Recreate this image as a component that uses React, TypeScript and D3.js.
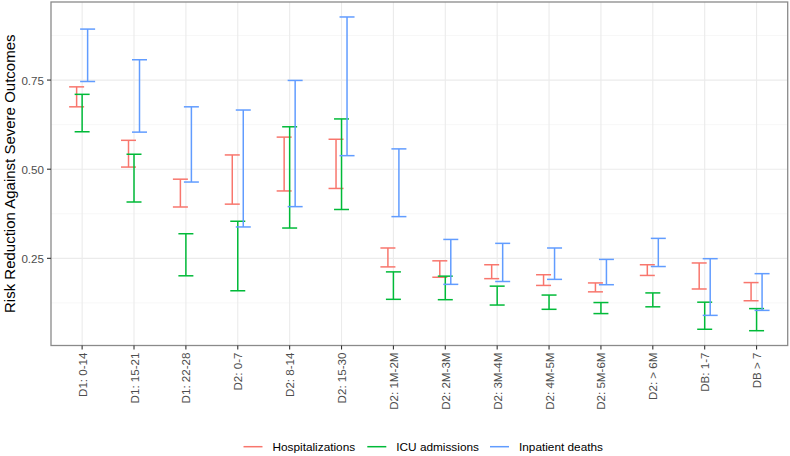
import React from "react";
import * as d3 from "d3";

const categories = [
  "D1: 0-14", "D1: 15-21", "D1: 22-28", "D2: 0-7", "D2: 8-14", "D2: 15-30",
  "D2: 1M-2M", "D2: 2M-3M", "D2: 3M-4M", "D2: 4M-5M", "D2: 5M-6M", "D2: > 6M",
  "DB: 1-7", "DB > 7",
];

const seriesNames = ["Hospitalizations", "ICU admissions", "Inpatient deaths"];
const seriesColors = ["#F8766D", "#00BA38", "#619CFF"];

const hospLower = [0.675, 0.506, 0.394, 0.402, 0.439, 0.446, 0.226, 0.197, 0.193, 0.174, 0.156, 0.202, 0.164, 0.131];
const hospUpper = [0.731, 0.581, 0.472, 0.540, 0.590, 0.584, 0.279, 0.243, 0.232, 0.204, 0.181, 0.232, 0.237, 0.182];
const icuLower = [0.605, 0.408, 0.201, 0.159, 0.335, 0.387, 0.135, 0.134, 0.119, 0.107, 0.095, 0.114, 0.051, 0.047];
const icuUpper = [0.710, 0.542, 0.319, 0.354, 0.619, 0.641, 0.212, 0.200, 0.172, 0.147, 0.126, 0.153, 0.127, 0.109];
const deathLower = [0.746, 0.604, 0.464, 0.338, 0.395, 0.538, 0.367, 0.177, 0.185, 0.191, 0.176, 0.227, 0.090, 0.104];
const deathUpper = [0.893, 0.807, 0.675, 0.666, 0.749, 0.927, 0.557, 0.303, 0.292, 0.279, 0.247, 0.306, 0.249, 0.207];

const yMajor = [0.25, 0.5, 0.75];
const yMinor = [0.125, 0.375, 0.625, 0.875];

const W = 790, H = 456;
const P = { left: 51, right: 787.7, top: 2, bottom: 345.5 };

export default function App() {
  const x = d3.scalePoint<string>().domain(categories).range([P.left, P.right]).padding(0.6);
  const y = d3.scaleLinear().domain([0.0055, 0.969]).range([P.bottom, P.top]);
  const lowers = [hospLower, icuLower, deathLower];
  const uppers = [hospUpper, icuUpper, deathUpper];
  const offsets = [-5.5, 0, 5.5];
  const capHalf = 7.5;
  const font = "'Liberation Sans', Arial, Helvetica, sans-serif";

  const legendKeys = [243.5, 367.3, 490];
  const legendY = 446.7;

  return (
    <svg width={W} height={H} style={{ position: "absolute", left: 0, top: 0 }} fontFamily={font}>
      <rect x={0} y={0} width={W} height={H} fill="#fff" />
      {yMinor.map((v) => (
        <line key={"ym" + v} x1={P.left} x2={P.right} y1={y(v)} y2={y(v)} stroke="#F2F2F2" strokeWidth={0.6} />
      ))}
      {yMajor.map((v) => (
        <line key={"yg" + v} x1={P.left} x2={P.right} y1={y(v)} y2={y(v)} stroke="#EBEBEB" strokeWidth={1.1} />
      ))}
      {categories.map((c) => (
        <line key={"xg" + c} x1={x(c)} x2={x(c)} y1={P.top} y2={P.bottom} stroke="#EBEBEB" strokeWidth={1.1} />
      ))}
      {seriesNames.map((s, si) => (
        <g key={s} stroke={seriesColors[si]} strokeWidth={1.5} fill="none">
          {categories.map((c, i) => {
            const cx = (x(c) as number) + offsets[si];
            const y1 = y(uppers[si][i]);
            const y2 = y(lowers[si][i]);
            return (
              <g key={c}>
                <line x1={cx} x2={cx} y1={y1} y2={y2} />
                <line x1={cx - capHalf} x2={cx + capHalf} y1={y1} y2={y1} />
                <line x1={cx - capHalf} x2={cx + capHalf} y1={y2} y2={y2} />
              </g>
            );
          })}
        </g>
      ))}
      <rect x={P.left} y={P.top} width={P.right - P.left} height={P.bottom - P.top} fill="none" stroke="#8A8A8A" strokeWidth={1.3} />
      {yMajor.map((v) => (
        <g key={"yt" + v}>
          <line x1={P.left - 4} x2={P.left} y1={y(v)} y2={y(v)} stroke="#333333" strokeWidth={1.1} />
          <text x={P.left - 7} y={y(v)} textAnchor="end" dominantBaseline="central" fontSize={11.6} fill="#4D4D4D">
            {v.toFixed(2)}
          </text>
        </g>
      ))}
      {categories.map((c) => {
        const cx = x(c) as number;
        const ty = P.bottom + 7;
        return (
          <g key={"xt" + c}>
            <line x1={cx} x2={cx} y1={P.bottom} y2={P.bottom + 4} stroke="#333333" strokeWidth={1.1} />
            <text x={cx} y={ty} transform={`rotate(-90, ${cx}, ${ty})`} textAnchor="end" dominantBaseline="central" fontSize={11.6} fill="#4D4D4D">
              {c}
            </text>
          </g>
        );
      })}
      <text x={0} y={0} transform={`translate(9, ${(P.top + P.bottom) / 2}) rotate(-90)`} textAnchor="middle" dominantBaseline="central" fontSize={15} fill="#000">
        Risk Reduction Against Severe Outcomes
      </text>
      {seriesNames.map((s, si) => (
        <g key={"lg" + s}>
          <line x1={legendKeys[si]} x2={legendKeys[si] + 19} y1={legendY} y2={legendY} stroke={seriesColors[si]} strokeWidth={1.5} />
          <text x={legendKeys[si] + 29} y={legendY} dominantBaseline="central" fontSize={11.8} fill="#000">
            {s}
          </text>
        </g>
      ))}
    </svg>
  );
}
